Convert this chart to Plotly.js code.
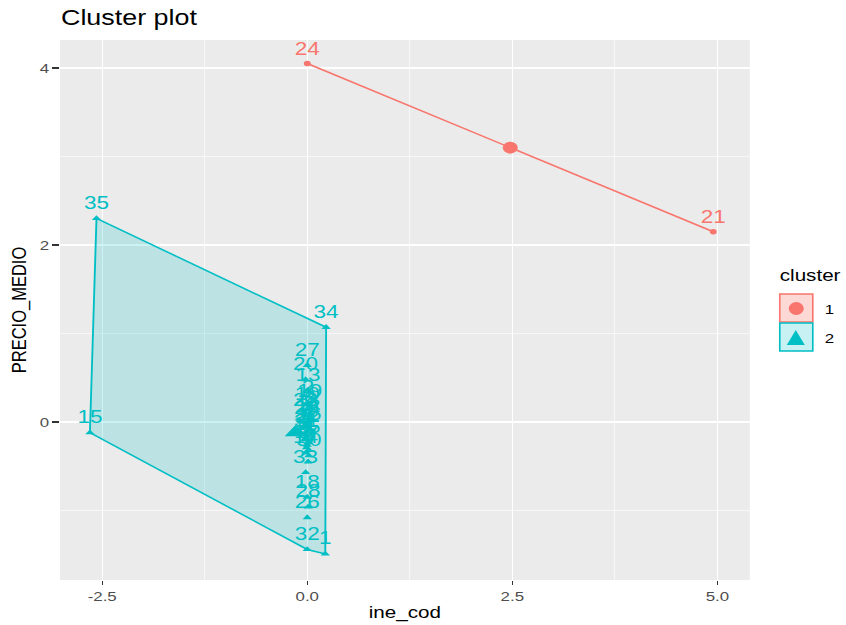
<!DOCTYPE html>
<html><head><meta charset="utf-8">
<script src="https://cdn.plot.ly/plotly-3.0.1.min.js"></script>
<style>
html,body{margin:0;padding:0;background:#fff;overflow:hidden}
#wrap{width:846px;height:625px;overflow:hidden}
#chart{width:677px;height:625px;transform:scaleX(1.2496);transform-origin:0 0}
</style></head>
<body><div id="wrap"><div id="chart"></div></div>
<script>
// ---- data ----
const ids = ['1','2','3','4','5','6','7','8','9','10','11','12','13','14','15','16','17','18','19','20',
             '21','22','23','24','25','26','27','28','29','30','31','32','33','34','35'];
const ineCod = [0.22, 0.01, -0.02, 0.02, 0.00, 0.03, 0.01, -0.01, 0.02, 0.00,
                -0.03, 0.01, 0.01, -0.02, -2.65, 0.02, -0.01, 0.00, 0.03, -0.02,
                4.95, 0.00, -0.02, 0.00, 0.01, 0.00, 0.00, 0.01, -0.01, 0.02,
                -0.01, 0.00, -0.02, 0.23, -2.57];
const precioMedio = [-1.49, 0.22, -0.14, 0.04, -0.26, 0.10, -0.45, -0.05, -0.32, 0.14,
                     -0.20, 0.01, 0.36, -0.35, -0.12, -0.08, -0.29, -0.85, 0.18, 0.48,
                     2.15, -0.11, 0.07, 4.05, -0.23, -1.08, 0.64, -0.96, -0.02, -0.38,
                     -0.17, -1.44, -0.57, 1.07, 2.30];
const cluster = ['2','2','2','2','2','2','2','2','2','2','2','2','2','2','2','2','2','2','2','2',
                 '1','2','2','1','2','2','2','2','2','2','2','2','2','2','2'];
const clusterNames = ['1','2'];
const hullIds = {'1': ['24','21'], '2': ['35','34','1','32','15']};
const xTicks = [-2.5, 0, 2.5, 5];
const xMinor = [-1.25, 1.25, 3.75];
const yTicks = [0, 2, 4];
const yMinor = [-1, 1, 3];

// ---- styles ----
const colors = {'1':'#F8766D','2':'#00BFC4'};
const fills = {'1':'rgba(248,118,109,0.2)','2':'rgba(0,191,196,0.2)'};
const symbols = {'1':'circle','2':'triangle-up'};
const ptSize = {'1':5.5,'2':6.5};
const ctrSize = {'1':12,'2':15};
const FONT = 'Liberation Sans, Arial, Helvetica, sans-serif';

const traces = [];
// hulls
clusterNames.slice().reverse().forEach(c => {
  const hx = [], hy = [];
  hullIds[c].concat([hullIds[c][0]]).forEach(id => {
    const i = ids.indexOf(id); hx.push(ineCod[i]); hy.push(precioMedio[i]);
  });
  traces.push({type:'scatter', mode:'lines', x:hx, y:hy, fill:'toself',
    fillcolor:fills[c], line:{color:colors[c], width:1.5}, hoverinfo:'skip'});
});
// points + labels + centers
clusterNames.slice().reverse().forEach(c => {
  const px = [], py = [], tx = [];
  ids.forEach((id, i) => { if (cluster[i] === c) { px.push(ineCod[i]); py.push(precioMedio[i]); tx.push(id); } });
  traces.push({type:'scatter', mode:'markers+text', x:px, y:py, text:tx,
    textposition:'top center', textfont:{family:FONT, size:18, color:colors[c]},
    marker:{symbol:symbols[c], size:ptSize[c], color:colors[c]}});
  const mx = px.reduce((a,b)=>a+b,0)/px.length, my = py.reduce((a,b)=>a+b,0)/py.length;
  traces.push({type:'scatter', mode:'markers', x:[mx], y:[my],
    marker:{symbol:symbols[c], size:ctrSize[c], color:colors[c]}});
});

// pixel (in the final 846-wide picture) -> paper helpers for the legend
const W = 677, S = 846/W;
const L = 60.5/S, T = 40, PW = (750-60.5)/S, PH = 580-40;
const pxp = xs => (xs/S - L)/PW;
const pyp = ys => (T + PH - ys)/PH;

const shapes = [
  {type:'rect', xref:'paper', yref:'paper', x0:pxp(780), x1:pxp(813), y0:pyp(322), y1:pyp(294),
   fillcolor:'rgba(248,118,109,0.28)', line:{color:colors['1'], width:1.3}},
  {type:'rect', xref:'paper', yref:'paper', x0:pxp(780), x1:pxp(813), y0:pyp(351), y1:pyp(323),
   fillcolor:'rgba(0,191,196,0.22)', line:{color:colors['2'], width:1.3}},
  {type:'circle', xref:'paper', yref:'paper', x0:pxp(789), x1:pxp(804), y0:pyp(315), y1:pyp(302),
   fillcolor:colors['1'], line:{width:0}},
  {type:'path', xref:'paper', yref:'paper',
   path:`M ${pxp(787)} ${pyp(345)} L ${pxp(805)} ${pyp(345)} L ${pxp(796)} ${pyp(330)} Z`,
   fillcolor:colors['2'], line:{width:0}}
];
const annotations = [
  {xref:'paper', yref:'paper', x:pxp(778), y:pyp(275), xanchor:'left', yanchor:'middle', showarrow:false,
   text:'cluster', font:{family:FONT, size:16.5, color:'#000'}},
  {xref:'paper', yref:'paper', x:pxp(823), y:pyp(309), xanchor:'left', yanchor:'middle', showarrow:false,
   text:clusterNames[0], font:{family:FONT, size:13.5, color:'#000'}},
  {xref:'paper', yref:'paper', x:pxp(823), y:pyp(338), xanchor:'left', yanchor:'middle', showarrow:false,
   text:clusterNames[1], font:{family:FONT, size:13.5, color:'#000'}}
];

const layout = {
  width:W, height:625,
  margin:{l:L, r:W-L-PW, t:T, b:625-T-PH, pad:0},
  paper_bgcolor:'#fff', plot_bgcolor:'#EBEBEB',
  showlegend:false, hovermode:false,
  font:{family:FONT},
  title:{text:'Cluster plot', xref:'container', x:61/S/W, xanchor:'left',
         yref:'container', y:1-17/625, yanchor:'middle', font:{family:FONT, size:21.5, color:'#000'}},
  xaxis:{range:[-3.015, 5.395], tickmode:'array', tickvals:xTicks, ticktext:xTicks.map(v=>v.toFixed(1)),
         ticks:'outside', ticklen:4, tickwidth:1.1, tickcolor:'#333333',
         tickfont:{family:FONT, size:13.5, color:'#4D4D4D'},
         showgrid:true, gridcolor:'#FFFFFF', gridwidth:1.1, zeroline:false, showline:false,
         minor:{tickmode:'array', tickvals:xMinor, showgrid:true, gridcolor:'#FFFFFF', gridwidth:0.55, ticks:''},
         automargin:false,
         title:{text:'ine_cod', font:{family:FONT, size:16.5, color:'#000'}, standoff:3}},
  yaxis:{range:[-1.785, 4.316], tickmode:'array', tickvals:yTicks, ticktext:yTicks.map(String),
         ticks:'outside', ticklen:5, tickwidth:1.1, tickcolor:'#333333',
         tickfont:{family:FONT, size:13.5, color:'#4D4D4D'},
         showgrid:true, gridcolor:'#FFFFFF', gridwidth:1.1, zeroline:false, showline:false,
         minor:{tickmode:'array', tickvals:yMinor, showgrid:true, gridcolor:'#FFFFFF', gridwidth:0.55, ticks:''},
         automargin:false,
         title:{text:'PRECIO_MEDIO', font:{family:FONT, size:16.5, color:'#000'}, standoff:6}},
  shapes:shapes, annotations:annotations
};
Plotly.newPlot('chart', traces, layout, {displayModeBar:false, staticPlot:true});
</script>
</body></html>
